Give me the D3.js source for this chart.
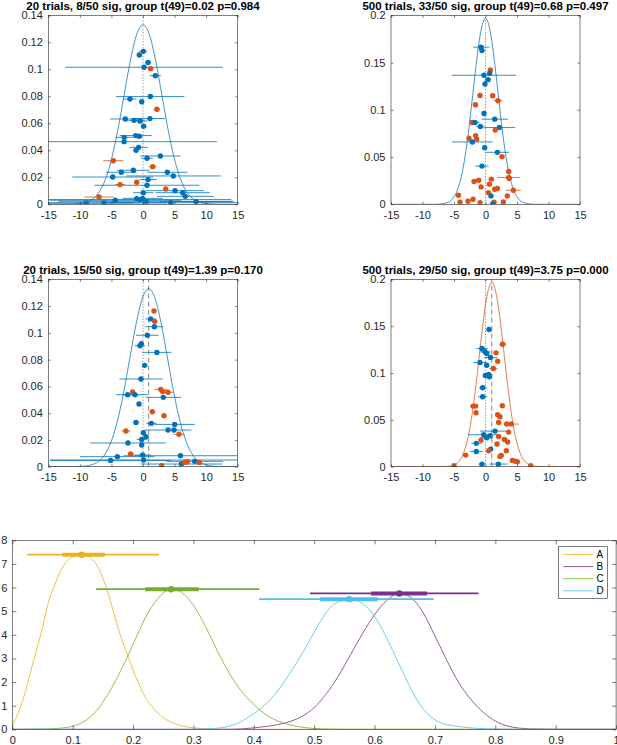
<!DOCTYPE html>
<html>
<head>
<meta charset="utf-8">
<script src="https://cdn.jsdelivr.net/npm/d3@7"></script>
<style>
  body { margin: 0; background: #fff; }
  svg  { display: block; }
</style>
</head>
<body>
<svg id="chart" width="617" height="745"></svg>
<script>
"use strict";

// ── Data: top panels (x = estimate, y = weight, e = half-width of bar, s = significant) ──
const xTicksTop = [-15, -10, -5, 0, 5, 10, 15];
const yTicks20  = [0, 0.02, 0.04, 0.06, 0.08, 0.1, 0.12, 0.14];
const yTicks500 = [0, 0.05, 0.1, 0.15, 0.2];

const titles = [
  "20 trials, 8/50 sig, group t(49)=0.02 p=0.984",
  "500 trials, 33/50 sig, group t(49)=0.68 p=0.497",
  "20 trials, 15/50 sig, group t(49)=1.39 p=0.170",
  "500 trials, 29/50 sig, group t(49)=3.75 p=0.000",
];
const groupMeans = [null, null, 0.9, 1.0];

const p1x = [0.05,-0.58,0.8,0.16,1.2,1.95,1.16,-2.06,-0.2,2.2,-2.8,1.1,-1.43,-0.48,0.1,-1.16,-0.58,-2.96,-3.0,-0.69,-1.1,2.75,0.63,-4.7,1.53,-1.53,-3.43,3.86,-4.8,4.8,0.8,-3.64,-1.0,0.63,3.6,5.07,6.29,0.05,6.7,-6.97,-1.0,-0.05,-4.4,8.4,-9.0,-6.2,4.4,-0.5,0.5];
const p1y = [0.1133,0.1106,0.105,0.1015,0.1005,0.0953,0.0798,0.078,0.076,0.0704,0.0632,0.0635,0.0622,0.0617,0.0578,0.0509,0.0504,0.0496,0.0464,0.0422,0.04,0.0358,0.0341,0.0323,0.0279,0.0252,0.0237,0.0237,0.0202,0.021,0.0183,0.0146,0.0163,0.0141,0.0114,0.0101,0.0086,0.0086,0.0059,0.0054,0.0042,0.0044,0.003,0.002,0.001,0.001,0.0012,0.0035,0.0022];
const p1e = [0.6,0.3,0.45,12.5,0.3,0.9,5.4,1.05,0.3,0.55,2.4,2.4,1.7,1.2,0.4,2.55,0.5,1.4,14.7,1.45,0.4,3.2,0.9,1.6,0.6,2.6,2.4,3.2,6.4,7.5,1.4,0.8,0.3,8.3,0.3,4.6,4.3,1.6,4.5,2.3,0.4,3.2,10.4,5.7,7.5,10.0,10.5,14.5,13.9];
const p1s = [0,0,0,0,1,0,0,0,0,1,0,0,0,0,0,0,0,0,0,0,0,0,0,1,1,0,0,0,0,0,0,1,1,0,1,0,0,0,0,1,0,0,0,0,0,0,0,0,0];

const p2x = [-0.7,-0.56,0.77,0.66,-0.24,0.4,-0.08,-0.87,1.14,1.98,-1.6,-0.24,1.46,-2.14,-1.67,-0.82,2.2,1.56,-1.56,-1.4,-2.62,-2.09,-0.13,1.88,2.62,-0.56,3.68,0.93,3.68,3.78,-1.82,-1.08,0.61,-0.7,1.46,1.88,4.42,0.45,-4.31,0.87,3.47,-1.98,-2.78,-4.05,-0.87,1.35,2.83,1.14];
const p2y = [0.1663,0.1628,0.1422,0.1387,0.1365,0.1319,0.1273,0.1152,0.1149,0.1096,0.1053,0.0961,0.0901,0.0865,0.0865,0.0823,0.0812,0.0787,0.0727,0.0688,0.0699,0.066,0.0599,0.055,0.0504,0.0404,0.0348,0.0266,0.0284,0.0273,0.0241,0.0255,0.0213,0.0184,0.016,0.0167,0.0149,0.0124,0.0096,0.0089,0.0089,0.0053,0.0032,0.0021,0.0018,0.0021,0.0025,0.0004];
const p2e = [1.3,0.3,0.25,0.4,5.1,0.5,0.2,0.2,0.3,0.7,0.15,0.15,2.1,0.3,0.7,0.6,2.5,0.2,0.15,0.15,0.3,3.25,0.3,1.85,0.3,1.05,0.4,0.15,1.85,0.3,0.2,0.2,0.15,0.15,0.3,0.2,1.2,0.2,0.2,0.3,0.2,0.2,0.2,0.2,0.15,0.2,0.2,0.3];
const p2s = [0,0,1,0,0,0,0,1,1,1,1,0,0,1,0,0,0,1,1,1,1,0,0,0,1,0,1,1,1,1,1,1,1,1,1,1,1,1,1,0,1,1,1,1,1,1,1,0];

const p3x = [1.74,1.21,1.85,1.8,0.69,-0.26,-0.48,2.2,0.26,-0.32,-1.64,-2.43,-1.27,2.8,3.12,3.96,3.22,-0.63,1.48,3.33,-1.11,1.32,5.02,3.96,4.91,-2.7,0.05,5.7,0.48,-0.21,-2.38,-0.21,-1.96,-0.05,5.92,-4.07,-5.13,8.19,7.03,8.93,6.08,2.96,6.6,0.1];
const p3y = [0.1163,0.1104,0.1086,0.1046,0.0982,0.0919,0.0904,0.0854,0.0757,0.0655,0.0558,0.0538,0.0538,0.0578,0.0561,0.0556,0.0518,0.0468,0.0411,0.0381,0.0331,0.0324,0.0316,0.0274,0.0274,0.0267,0.0254,0.0242,0.0224,0.0204,0.0177,0.0162,0.0095,0.0087,0.0082,0.0075,0.0047,0.004,0.0037,0.0032,0.002,0.0007,0.0032,0.005];
const p3e = [0.3,0.8,0.3,1.4,1.8,0.2,0.8,2.3,0.2,3.4,0.3,1.8,2.0,1.0,0.3,0.8,2.8,0.3,0.5,0.3,0.5,0.8,3.2,3.7,0.3,0.7,0.3,0.9,0.3,0.8,6.0,0.2,0.5,1.3,9.0,5.9,9.6,4.5,0.3,0.3,6.5,0.4,0.3,14.8];
const p3s = [1,0,1,0,0,0,0,0,0,0,1,0,0,1,1,1,0,0,1,1,0,0,0,0,0,1,0,1,0,0,0,0,1,0,0,0,0,0,1,1,0,1,1,0];

const p4x = [0.56,2.72,-0.56,-0.08,0.19,1.67,0.77,1.93,-0.87,0.19,1.24,-0.03,0.5,0.61,-0.45,-0.45,-1.98,-1.56,2.67,-1.5,1.93,2.3,2.09,3.36,4.1,1.51,3.68,-0.29,0.71,2.09,0.19,-0.71,3.0,3.52,-1.46,1.83,0.82,-1.46,0.5,3.31,2.51,2.3,-3.15,4.26,4.68,5.05,-0.56,2.04,-4.99,7.17];
const p4y = [0.1464,0.1307,0.1261,0.1226,0.1208,0.1215,0.1165,0.1126,0.1112,0.1083,0.1048,0.0973,0.0984,0.0959,0.0842,0.0746,0.0647,0.0647,0.065,0.0576,0.0554,0.0533,0.0472,0.0455,0.0455,0.038,0.0369,0.0341,0.033,0.0323,0.0309,0.0284,0.0291,0.0263,0.0249,0.0242,0.0188,0.0163,0.017,0.017,0.0121,0.011,0.0124,0.0067,0.006,0.0053,0.0028,0.0028,0.0011,0.0011];
const p4e = [0.2,0.6,0.9,0.8,0.2,0.3,1.05,0.3,1.05,0.2,0.65,0.2,0.55,0.2,0.6,0.75,0.2,0.2,0.2,0.3,0.2,0.2,0.2,0.2,1.2,2.4,0.2,2.5,0.2,0.2,1.05,0.2,0.2,0.2,0.8,0.2,0.3,1.0,0.2,0.2,0.2,0.2,0.2,0.2,0.2,0.2,0.5,1.45,0.2,0.2];
const p4s = [0,1,0,0,0,1,0,1,0,0,1,0,0,0,0,0,1,1,1,1,1,1,1,1,1,0,1,0,0,1,0,1,1,1,0,1,0,0,1,1,1,1,1,1,1,1,0,0,1,1];

// group density curves
const c1x = [-15,-12,-10,-9,-8,-7,-6,-5,-4,-3,-2,-1,0,1,2,3,4,5,6,7,8,9,10,12,15];
const c1y = [0,0,0.0005,0.0015,0.0038,0.0087,0.018,0.0332,0.0547,0.0807,0.1065,0.1258,0.133,0.1258,0.1065,0.0807,0.0547,0.0332,0.018,0.0087,0.0038,0.0015,0.0005,0,0];
const c3x = [-15,-11.1,-9.1,-8.1,-7.1,-6.1,-5.1,-4.1,-3.1,-2.1,-1.1,-0.1,0.9,1.9,2.9,3.9,4.9,5.9,6.9,7.9,8.9,9.9,10.9,12.9,15];
const c3y = [0,0,0.0005,0.0015,0.0038,0.0087,0.018,0.0332,0.0547,0.0807,0.1065,0.1258,0.133,0.1258,0.1065,0.0807,0.0547,0.0332,0.018,0.0087,0.0038,0.0015,0.0005,0,0];
const c2x = [-15,-8,-7,-6,-5,-4.5,-4,-3.5,-3,-2.5,-2,-1.5,-1,-0.5,0,0.5,1,1.5,2,2.5,3,3.5,4,4.5,5,6,7,8,15];
const c2y = [0,0,0.0004,0.0019,0.0078,0.0145,0.025,0.0405,0.0616,0.0878,0.1174,0.147,0.1727,0.1903,0.1965,0.1903,0.1727,0.147,0.1174,0.0878,0.0616,0.0405,0.025,0.0145,0.0078,0.0019,0.0004,0,0];
const c4x = [-15,-7,-6,-5,-4,-3.5,-3,-2.5,-2,-1.5,-1,-0.5,0,0.5,1,1.5,2,2.5,3,3.5,4,4.5,5,5.5,6,7,8,9,15];
const c4y = [0,0,0.0004,0.0019,0.0078,0.0145,0.025,0.0405,0.0616,0.0878,0.1174,0.147,0.1727,0.1903,0.1965,0.1903,0.1727,0.147,0.1174,0.0878,0.0616,0.0405,0.025,0.0145,0.0078,0.0019,0.0004,0,0];

// ── Data: bottom panel ──
const xTicksBot = [0, 0.1, 0.2, 0.3, 0.4, 0.5, 0.6, 0.7, 0.8, 0.9, 1];
const yTicksBot = [0, 1, 2, 3, 4, 5, 6, 7, 8];

const aX = [0,0.01,0.02,0.03,0.04,0.05,0.06,0.07,0.08,0.09,0.1,0.115,0.13,0.14,0.15,0.16,0.17,0.18,0.19,0.2,0.21,0.22,0.23,0.24,0.25,0.26,0.28,0.3,0.33,0.36,1];
const aY = [0.15,0.7,1.45,2.4,3.35,4.3,5.4,6.1,6.7,7.1,7.3,7.4,7.25,6.95,6.4,5.65,4.75,3.9,3.2,2.5,1.9,1.38,1.0,0.72,0.5,0.34,0.15,0.06,0.015,0,0];
const bX = [0,0.36,0.4,0.42,0.44,0.46,0.48,0.5,0.52,0.54,0.56,0.58,0.6,0.62,0.641,0.66,0.68,0.7,0.72,0.74,0.76,0.78,0.8,0.82,0.84,0.87,0.9,1];
const bY = [0,0,0.06,0.12,0.2,0.33,0.55,0.92,1.5,2.25,3.15,4.05,4.85,5.45,5.75,5.58,4.95,3.95,2.9,1.95,1.25,0.72,0.35,0.14,0.05,0.01,0,0];
const cX = [0,0.05,0.08,0.1,0.12,0.14,0.16,0.18,0.2,0.22,0.24,0.264,0.28,0.3,0.32,0.34,0.36,0.38,0.4,0.42,0.44,0.46,0.48,0.5,0.53,0.56,1];
const cY = [0,0.01,0.05,0.13,0.35,0.8,1.55,2.5,3.6,4.7,5.5,5.93,5.8,5.25,4.35,3.3,2.35,1.6,1.05,0.62,0.35,0.18,0.09,0.035,0.01,0,0];
const dX = [0,0.3,0.33,0.35,0.37,0.39,0.41,0.43,0.45,0.47,0.49,0.51,0.52,0.54,0.558,0.58,0.6,0.615,0.63,0.645,0.66,0.675,0.69,0.705,0.72,0.745,0.77,0.8,0.83,1];
const dY = [0,0,0.03,0.08,0.22,0.5,0.85,1.33,2.0,2.78,3.65,4.55,4.95,5.4,5.51,5.33,4.78,4.12,3.33,2.52,1.72,1.05,0.6,0.33,0.2,0.1,0.04,0.01,0,0];

const groupNames  = ["A", "B", "C", "D"];
const groupModes  = [0.115, 0.641, 0.263, 0.558];
const groupPeaks  = [7.39, 5.75, 5.93, 5.51];
const groupLo95   = [0.025, 0.493, 0.139, 0.409];
const groupHi95   = [0.243, 0.772, 0.409, 0.698];
const groupLo50   = [0.083, 0.594, 0.220, 0.510];
const groupHi50   = [0.153, 0.687, 0.309, 0.605];

// ── Styles ────────────────────────────────────────────────────────────────────
const FONT   = '"Liberation Sans", Arial, Helvetica, sans-serif';
const BLUE   = "#0072BD";
const ORANGE = "#D95319";
const INK    = "#262626";
const GROUP_COLORS = ["#EDB120", "#7E2F8E", "#77AC30", "#4DBEEE"];

const svg = d3.select("#chart");
let clipN = 0;

// box with inward ticks on all four sides, labels left + bottom
function drawFrame(x, y, xt, yt, tk, fs, pad) {
  const [X0, X1] = x.range();
  const [Y1, Y0] = y.range();
  const g = svg.append("g");
  const fmt = (d) => String(d);

  const addAxis = (axis, tr, labels) => {
    const a = g.append("g").attr("transform", tr)
      .call(axis.tickSizeInner(-tk).tickSizeOuter(0).tickFormat(labels ? fmt : ""));
    a.attr("font-family", FONT).attr("font-size", fs);
  };
  addAxis(d3.axisBottom(x).tickValues(xt).tickPadding(pad.x), `translate(0,${Y1})`, true);
  addAxis(d3.axisTop(x).tickValues(xt), `translate(0,${Y0})`, false);
  addAxis(d3.axisLeft(y).tickValues(yt).tickPadding(pad.y), `translate(${X0},0)`, true);
  addAxis(d3.axisRight(y).tickValues(yt), `translate(${X1},0)`, false);

  g.selectAll(".domain").remove();
  g.selectAll(".tick line").attr("stroke", INK).attr("stroke-width", 0.6);
  g.selectAll(".tick text").attr("fill", INK);

  g.append("rect")
    .attr("x", X0).attr("y", Y0)
    .attr("width", X1 - X0).attr("height", Y1 - Y0)
    .attr("fill", "none").attr("stroke", INK).attr("stroke-width", 0.6);
}

function addClip(x, y) {
  const id = "clip" + (++clipN);
  const [X0, X1] = x.range();
  const [Y1, Y0] = y.range();
  svg.append("clipPath").attr("id", id)
    .append("rect").attr("x", X0).attr("y", Y0).attr("width", X1 - X0).attr("height", Y1 - Y0);
  return `url(#${id})`;
}

// ── Top four panels ───────────────────────────────────────────────────────────
const panels = [
  { box: [48.3, 237.7, 15.3, 204.3],  yMax: 0.14, yt: yTicks20,  px: p1x, py: p1y, pe: p1e, ps: p1s, cx: c1x, cy: c1y, cc: BLUE },
  { box: [391, 580, 15.3, 204.3],     yMax: 0.2,  yt: yTicks500, px: p2x, py: p2y, pe: p2e, ps: p2s, cx: c2x, cy: c2y, cc: BLUE },
  { box: [48.3, 237.7, 279.3, 466.7], yMax: 0.14, yt: yTicks20,  px: p3x, py: p3y, pe: p3e, ps: p3s, cx: c3x, cy: c3y, cc: BLUE },
  { box: [391, 580, 279.3, 466.7],    yMax: 0.2,  yt: yTicks500, px: p4x, py: p4y, pe: p4e, ps: p4s, cx: c4x, cy: c4y, cc: ORANGE },
];

panels.forEach((p, i) => {
  const [X0, X1, Y0, Y1] = p.box;
  const x = d3.scaleLinear().domain([-15, 15]).range([X0, X1]);
  const y = d3.scaleLinear().domain([0, p.yMax]).range([Y1, Y0]);
  const clip = addClip(x, y);
  const g = svg.append("g").attr("clip-path", clip);

  // zero line (dotted) and group mean (dashed)
  g.append("line")
    .attr("x1", x(0)).attr("x2", x(0)).attr("y1", y(0)).attr("y2", y(p.yMax))
    .attr("stroke", "#333").attr("stroke-width", 0.7).attr("stroke-dasharray", "1,2");
  if (groupMeans[i] !== null) {
    g.append("line")
      .attr("x1", x(groupMeans[i])).attr("x2", x(groupMeans[i]))
      .attr("y1", y(0)).attr("y2", y(p.yMax))
      .attr("stroke", "#555").attr("stroke-width", 0.7).attr("stroke-dasharray", "5,3");
  }

  // density curve
  const pts = p.cx.map((v, k) => [v, p.cy[k]]);
  g.append("path")
    .attr("d", d3.line().x((d) => x(d[0])).y((d) => y(d[1])).curve(d3.curveMonotoneX)(pts))
    .attr("fill", "none").attr("stroke", p.cc).attr("stroke-width", 0.75);

  // error bars + points
  const idx = d3.range(p.px.length);
  g.selectAll(".eb").data(idx).join("line")
    .attr("x1", (k) => x(p.px[k] - p.pe[k]))
    .attr("x2", (k) => x(p.px[k] + p.pe[k]))
    .attr("y1", (k) => y(p.py[k])).attr("y2", (k) => y(p.py[k]))
    .attr("stroke", (k) => p.ps[k] ? ORANGE : BLUE)
    .attr("stroke-width", 0.8);
  g.selectAll(".pt").data(idx).join("circle")
    .attr("cx", (k) => x(p.px[k])).attr("cy", (k) => y(p.py[k]))
    .attr("r", 2.7)
    .attr("fill", (k) => p.ps[k] ? ORANGE : BLUE);

  drawFrame(x, y, xTicksTop, p.yt, 2.5, 11, { x: 7, y: 5.5 });

  svg.append("text")
    .attr("x", (X0 + X1) / 2).attr("y", Y0 - 5)
    .attr("text-anchor", "middle")
    .attr("font-family", FONT).attr("font-size", 11.5).attr("font-weight", "bold")
    .attr("fill", "#000")
    .text(titles[i]);
});

// ── Bottom panel ──────────────────────────────────────────────────────────────
{
  const x = d3.scaleLinear().domain([0, 1]).range([12.3, 616.1]);
  const y = d3.scaleLinear().domain([0, 8]).range([729.3, 540.3]);
  const clip = addClip(x, y);
  const g = svg.append("g").attr("clip-path", clip);
  const line = d3.line().x((d) => x(d[0])).y((d) => y(d[1])).curve(d3.curveMonotoneX);

  const curves = [[aX, aY], [bX, bY], [cX, cY], [dX, dY]];
  curves.forEach(([cx, cy], i) => {
    g.append("path")
      .attr("d", line(cx.map((v, k) => [v, cy[k]])))
      .attr("fill", "none").attr("stroke", GROUP_COLORS[i]).attr("stroke-width", 0.8);
  });

  groupNames.forEach((_, i) => {
    const col = GROUP_COLORS[i];
    const yy  = y(groupPeaks[i]);
    g.append("line")
      .attr("x1", x(groupLo95[i])).attr("x2", x(groupHi95[i]))
      .attr("y1", yy).attr("y2", yy)
      .attr("stroke", col).attr("stroke-width", 1.7);
    g.append("line")
      .attr("x1", x(groupLo50[i])).attr("x2", x(groupHi50[i]))
      .attr("y1", yy).attr("y2", yy)
      .attr("stroke", col).attr("stroke-width", 4);
    g.append("circle")
      .attr("cx", x(groupModes[i])).attr("cy", yy).attr("r", 3.2)
      .attr("fill", col);
  });

  drawFrame(x, y, xTicksBot, yTicksBot, 4, 11, { x: 6.5, y: 5 });

  // legend
  const lg = svg.append("g").attr("font-family", FONT).attr("font-size", 10);
  lg.append("rect")
    .attr("x", 558.3).attr("y", 546.7).attr("width", 49).attr("height", 51.6)
    .attr("fill", "#fff").attr("stroke", INK).attr("stroke-width", 0.6);
  groupNames.forEach((name, i) => {
    const ly = 554.5 + i * 12.1;
    lg.append("line")
      .attr("x1", 563.3).attr("x2", 593.3).attr("y1", ly).attr("y2", ly)
      .attr("stroke", GROUP_COLORS[i]).attr("stroke-width", 0.8);
    lg.append("text")
      .attr("x", 596.5).attr("y", ly).attr("dy", "0.35em")
      .attr("fill", "#000")
      .text(name);
  });
}
</script>
</body>
</html>
